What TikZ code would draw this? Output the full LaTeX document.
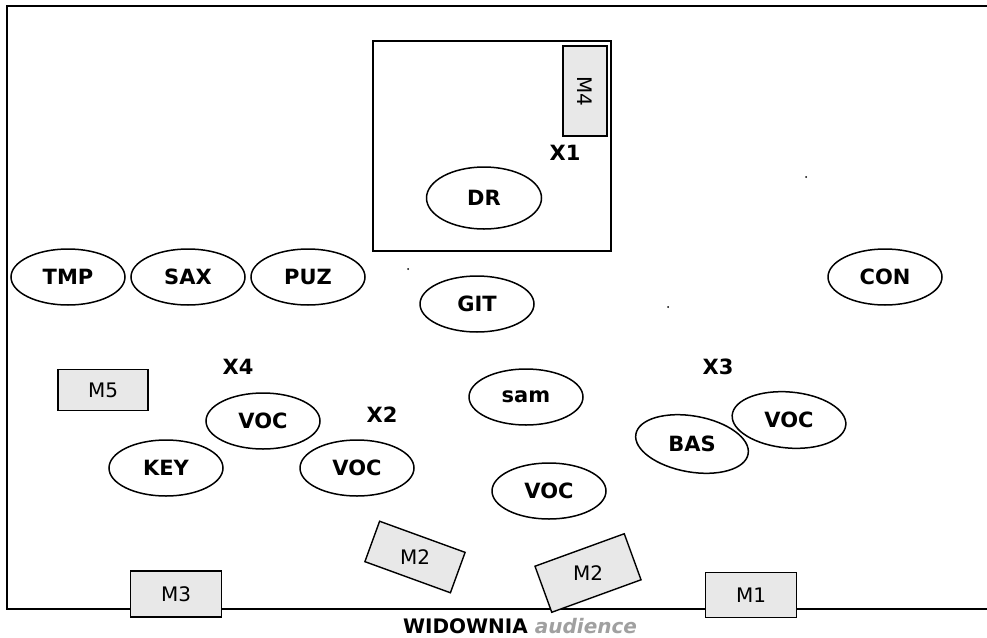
\documentclass[tikz,border=0pt]{standalone}
\usepackage{fontspec}
\setmainfont{DejaVu Sans}
\usetikzlibrary{shapes.geometric}
\definecolor{micgrey}{HTML}{E8E8E8}
\definecolor{audgrey}{HTML}{A0A0A0}
\begin{document}
\begin{tikzpicture}[x=1pt,y=-1pt,
  instr/.style={ellipse,draw,line width=1.5pt,minimum width=114pt,minimum height=56pt,
    inner sep=0pt,font=\fontsize{21}{25}\selectfont\bfseries},
  mic/.style={rectangle,draw,line width=1.4pt,fill=micgrey,minimum width=91pt,
    minimum height=46pt,inner sep=0pt,font=\fontsize{20}{24}\selectfont},
  xtag/.style={font=\fontsize{21}{25}\selectfont\bfseries},
  lbl/.style={font=\fontsize{21}{25}\selectfont\bfseries},
  miclbl/.style={font=\fontsize{20}{24}\selectfont}]
  \useasboundingbox (0,0) rectangle (987,637);
  \clip (0,0) rectangle (987,637);
  % stage outline
  \draw[line width=2.2pt] (995,6) -- (7,6) -- (7,609) -- (995,609);
  % drum riser
  \draw[line width=1.6pt] (373,41) rectangle (611,251);
  \node[mic,rotate=-90,minimum width=90pt,minimum height=44pt] (m4) at (585,91) {M4};
  \node[xtag] (x1) at (565,153) {X1};
  \node[instr,minimum width=115pt,minimum height=62pt] (dr) at (484,198) {DR};
  % front line
  \node[instr] (tmp) at (68,277) {TMP};
  \node[instr] (sax) at (188,277) {SAX};
  \node[instr] (puz) at (308,277) {PUZ};
  \node[instr] (git) at (477,304) {GIT};
  \node[instr] (con) at (885,277) {CON};
  % middle
  \node[xtag] (x4) at (238,367) {X4};
  \node[xtag] (x2) at (382,415) {X2};
  \node[xtag] (x3) at (718,367) {X3};
  \node[mic,minimum width=90pt,minimum height=41pt] (m5) at (103,390) {M5};
  \node[instr] (voca) at (263,421) {VOC};
  \node[instr] (key) at (166,468) {KEY};
  \node[instr] (vocb) at (357,468) {VOC};
  \node[instr] (sam) at (526,397) {sam};
  \node[instr,rotate=-5] (vocc) at (789,420) {};
  \node[lbl] at (vocc) {VOC};
  \node[instr,rotate=-10] (bas) at (692,444) {};
  \node[lbl] at (bas) {BAS};
  \node[instr] (vocd) at (549,491) {VOC};
  % monitors
  \node[mic,rotate=-20,minimum height=43pt] (m2a) at (415,557) {};
  \node[miclbl] at (m2a) {M2};
  \node[mic,rotate=20,minimum width=95pt,minimum height=49pt] (m2b) at (588,573) {};
  \node[miclbl] at (m2b) {M2};
  \node[mic] (m3) at (176,594) {M3};
  \node[mic,minimum height=45pt] (m1) at (751,595) {M1};
  % specks
  \fill (806,177) circle (1pt);
  \fill (408,269) circle (1pt);
  \fill (668,307) circle (1pt);
  \node[anchor=base,inner sep=0pt,font=\fontsize{20}{24}\selectfont\bfseries] (aud) at (520,633)
    {WIDOWNIA \textcolor{audgrey}{\itshape audience}};
\end{tikzpicture}
\end{document}
